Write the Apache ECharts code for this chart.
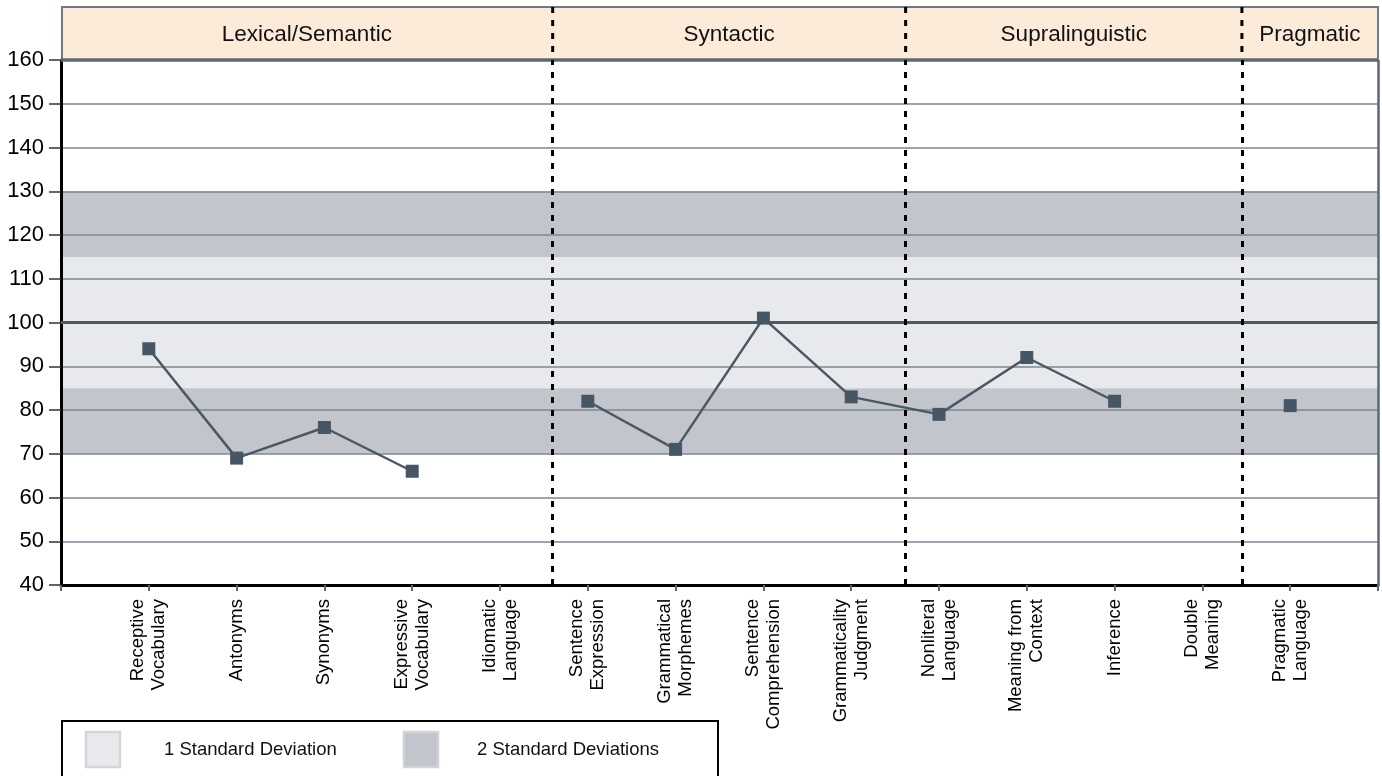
<!DOCTYPE html>
<html>
<head>
<meta charset="utf-8">
<script src="https://cdn.jsdelivr.net/npm/echarts@6/dist/echarts.min.js"></script>
<style>
html,body{margin:0;padding:0;background:#fff;}
#chart{width:1382px;height:776px;}
</style>
</head>
<body>
<div id="chart"></div>
<script>
// ---- data ----
const categories = [
  'Receptive\nVocabulary', 'Antonyms', 'Synonyms', 'Expressive\nVocabulary', 'Idiomatic\nLanguage',
  'Sentence\nExpression', 'Grammatical\nMorphemes', 'Sentence\nComprehension', 'Grammaticality\nJudgment',
  'Nonliteral\nLanguage', 'Meaning from\nContext', 'Inference', 'Double\nMeaning', 'Pragmatic\nLanguage'
];
const scores = [94, 69, 76, 66, null, 82, 71, 101, 83, 79, 92, 82, null, 81];
const yTicks = [40, 50, 60, 70, 80, 90, 100, 110, 120, 130, 140, 150, 160];
const sections = ['Lexical/Semantic', 'Syntactic', 'Supralinguistic', 'Pragmatic'];
const sectionDividers = [5.6, 9.62, 13.45];
const oneSD = [85, 115];
const twoSDLow = [70, 85];
const twoSDHigh = [115, 130];
const mean = 100;

const FONT = '"Liberation Sans", Arial, sans-serif';
const chart = echarts.init(document.getElementById('chart'));
const xMax = categories.length + 1;

const option = {
  animation: false,
  backgroundColor: '#fff',
  grid: { left: 61, right: 4, top: 60, bottom: 191, containLabel: false },
  xAxis: {
    type: 'value', min: 0, max: xMax, interval: 1, z: 3,
    axisLine: { show: true, onZero: false, lineStyle: { color: '#000', width: 3 } },
    axisTick: { show: true, length: 6, lineStyle: { color: '#5d6873', width: 2 } },
    splitLine: { show: false },
    axisLabel: {
      rotate: 90, margin: 14, fontSize: 18.5, lineHeight: 21, color: '#000', fontFamily: FONT,
      showMinLabel: true, showMaxLabel: true,
      formatter: v => categories[v - 1] || ''
    }
  },
  yAxis: {
    type: 'value', min: yTicks[0], max: yTicks[yTicks.length - 1], interval: 10, z: 3,
    axisLine: { show: true, lineStyle: { color: '#000', width: 3 } },
    axisTick: { show: true, length: 12, lineStyle: { color: '#333', width: 1.5 } },
    splitLine: { show: true, lineStyle: { color: '#7b8793', width: 1.5 } },
    axisLabel: { fontSize: 22, color: '#000', margin: 17, fontFamily: FONT }
  },
  series: [
    {
      type: 'line', data: [], z: 1, silent: true,
      markArea: {
        silent: true,
        data: [
          [{ yAxis: oneSD[0], itemStyle: { color: '#E8E9EC' } }, { yAxis: oneSD[1] }],
          [{ yAxis: twoSDLow[0], itemStyle: { color: '#C2C6CC' } }, { yAxis: twoSDLow[1] }],
          [{ yAxis: twoSDHigh[0], itemStyle: { color: '#C2C6CC' } }, { yAxis: twoSDHigh[1] }]
        ]
      }
    },
    {
      type: 'line', data: [], z: 4, silent: true,
      markLine: {
        silent: true, symbol: 'none', label: { show: false },
        data: [
          { yAxis: mean, lineStyle: { color: '#4b5a68', width: 3, type: 'solid' } },
          { yAxis: yTicks[yTicks.length - 1], lineStyle: { color: '#5d6873', width: 3.5, type: 'solid' } },
          { xAxis: xMax, lineStyle: { color: '#5d6873', width: 2.5, type: 'solid' } }
        ].concat(sectionDividers.map(d => ({ xAxis: d, lineStyle: { color: '#000', width: 3, type: [6, 7] } })))
      }
    },
    {
      type: 'line', z: 5,
      data: scores.map((s, i) => [i + 1, s]),
      connectNulls: false,
      symbol: 'rect', symbolSize: 13,
      itemStyle: { color: '#475665' },
      lineStyle: { color: '#4a5866', width: 2.5 }
    }
  ]
};
chart.setOption(option);

// header & legend graphics positioned by the axis scales
const px = v => chart.convertToPixel({ xAxisIndex: 0 }, v);
const topY = chart.convertToPixel({ yAxisIndex: 0 }, yTicks[yTicks.length - 1]);
const bounds = [0].concat(sectionDividers, [xMax]).map(px);
const headTop = 7;
const graphics = [
  { type: 'rect', shape: { x: bounds[0] + 1, y: headTop, width: bounds[bounds.length - 1] - bounds[0] - 1, height: topY - headTop },
    style: { fill: '#FDEBD9', stroke: '#6e7a86', lineWidth: 2 }, z: 0 }
];
sections.forEach((s, i) => {
  graphics.push({ type: 'text', x: (bounds[i] + bounds[i + 1]) / 2, y: (headTop + topY) / 2 + 1, z: 2,
    style: { text: s, font: '22.5px ' + FONT, fill: '#111', align: 'center', verticalAlign: 'middle' } });
});
sectionDividers.forEach(d => {
  const x = px(d);
  graphics.push({ type: 'line', shape: { x1: x, y1: headTop, x2: x, y2: topY }, z: 1,
    style: { stroke: '#000', lineWidth: 3, lineDash: [6, 7] } });
});
// legend box
graphics.push(
  { type: 'rect', shape: { x: 62, y: 721, width: 656, height: 70 }, style: { fill: '#fff', stroke: '#000', lineWidth: 2 } },
  { type: 'rect', shape: { x: 86, y: 732, width: 34, height: 35 }, style: { fill: '#E8E9EC', stroke: '#D4D5D7', lineWidth: 2.5 } },
  { type: 'text', x: 164, y: 750, style: { text: '1 Standard Deviation', font: '18.5px ' + FONT, fill: '#111', verticalAlign: 'middle' } },
  { type: 'rect', shape: { x: 404, y: 732, width: 34, height: 35 }, style: { fill: '#C2C6CC', stroke: '#D0D2D5', lineWidth: 2.5 } },
  { type: 'text', x: 477, y: 750, style: { text: '2 Standard Deviations', font: '18.5px ' + FONT, fill: '#111', verticalAlign: 'middle' } }
);
chart.setOption({ graphic: graphics });
</script>
</body>
</html>
